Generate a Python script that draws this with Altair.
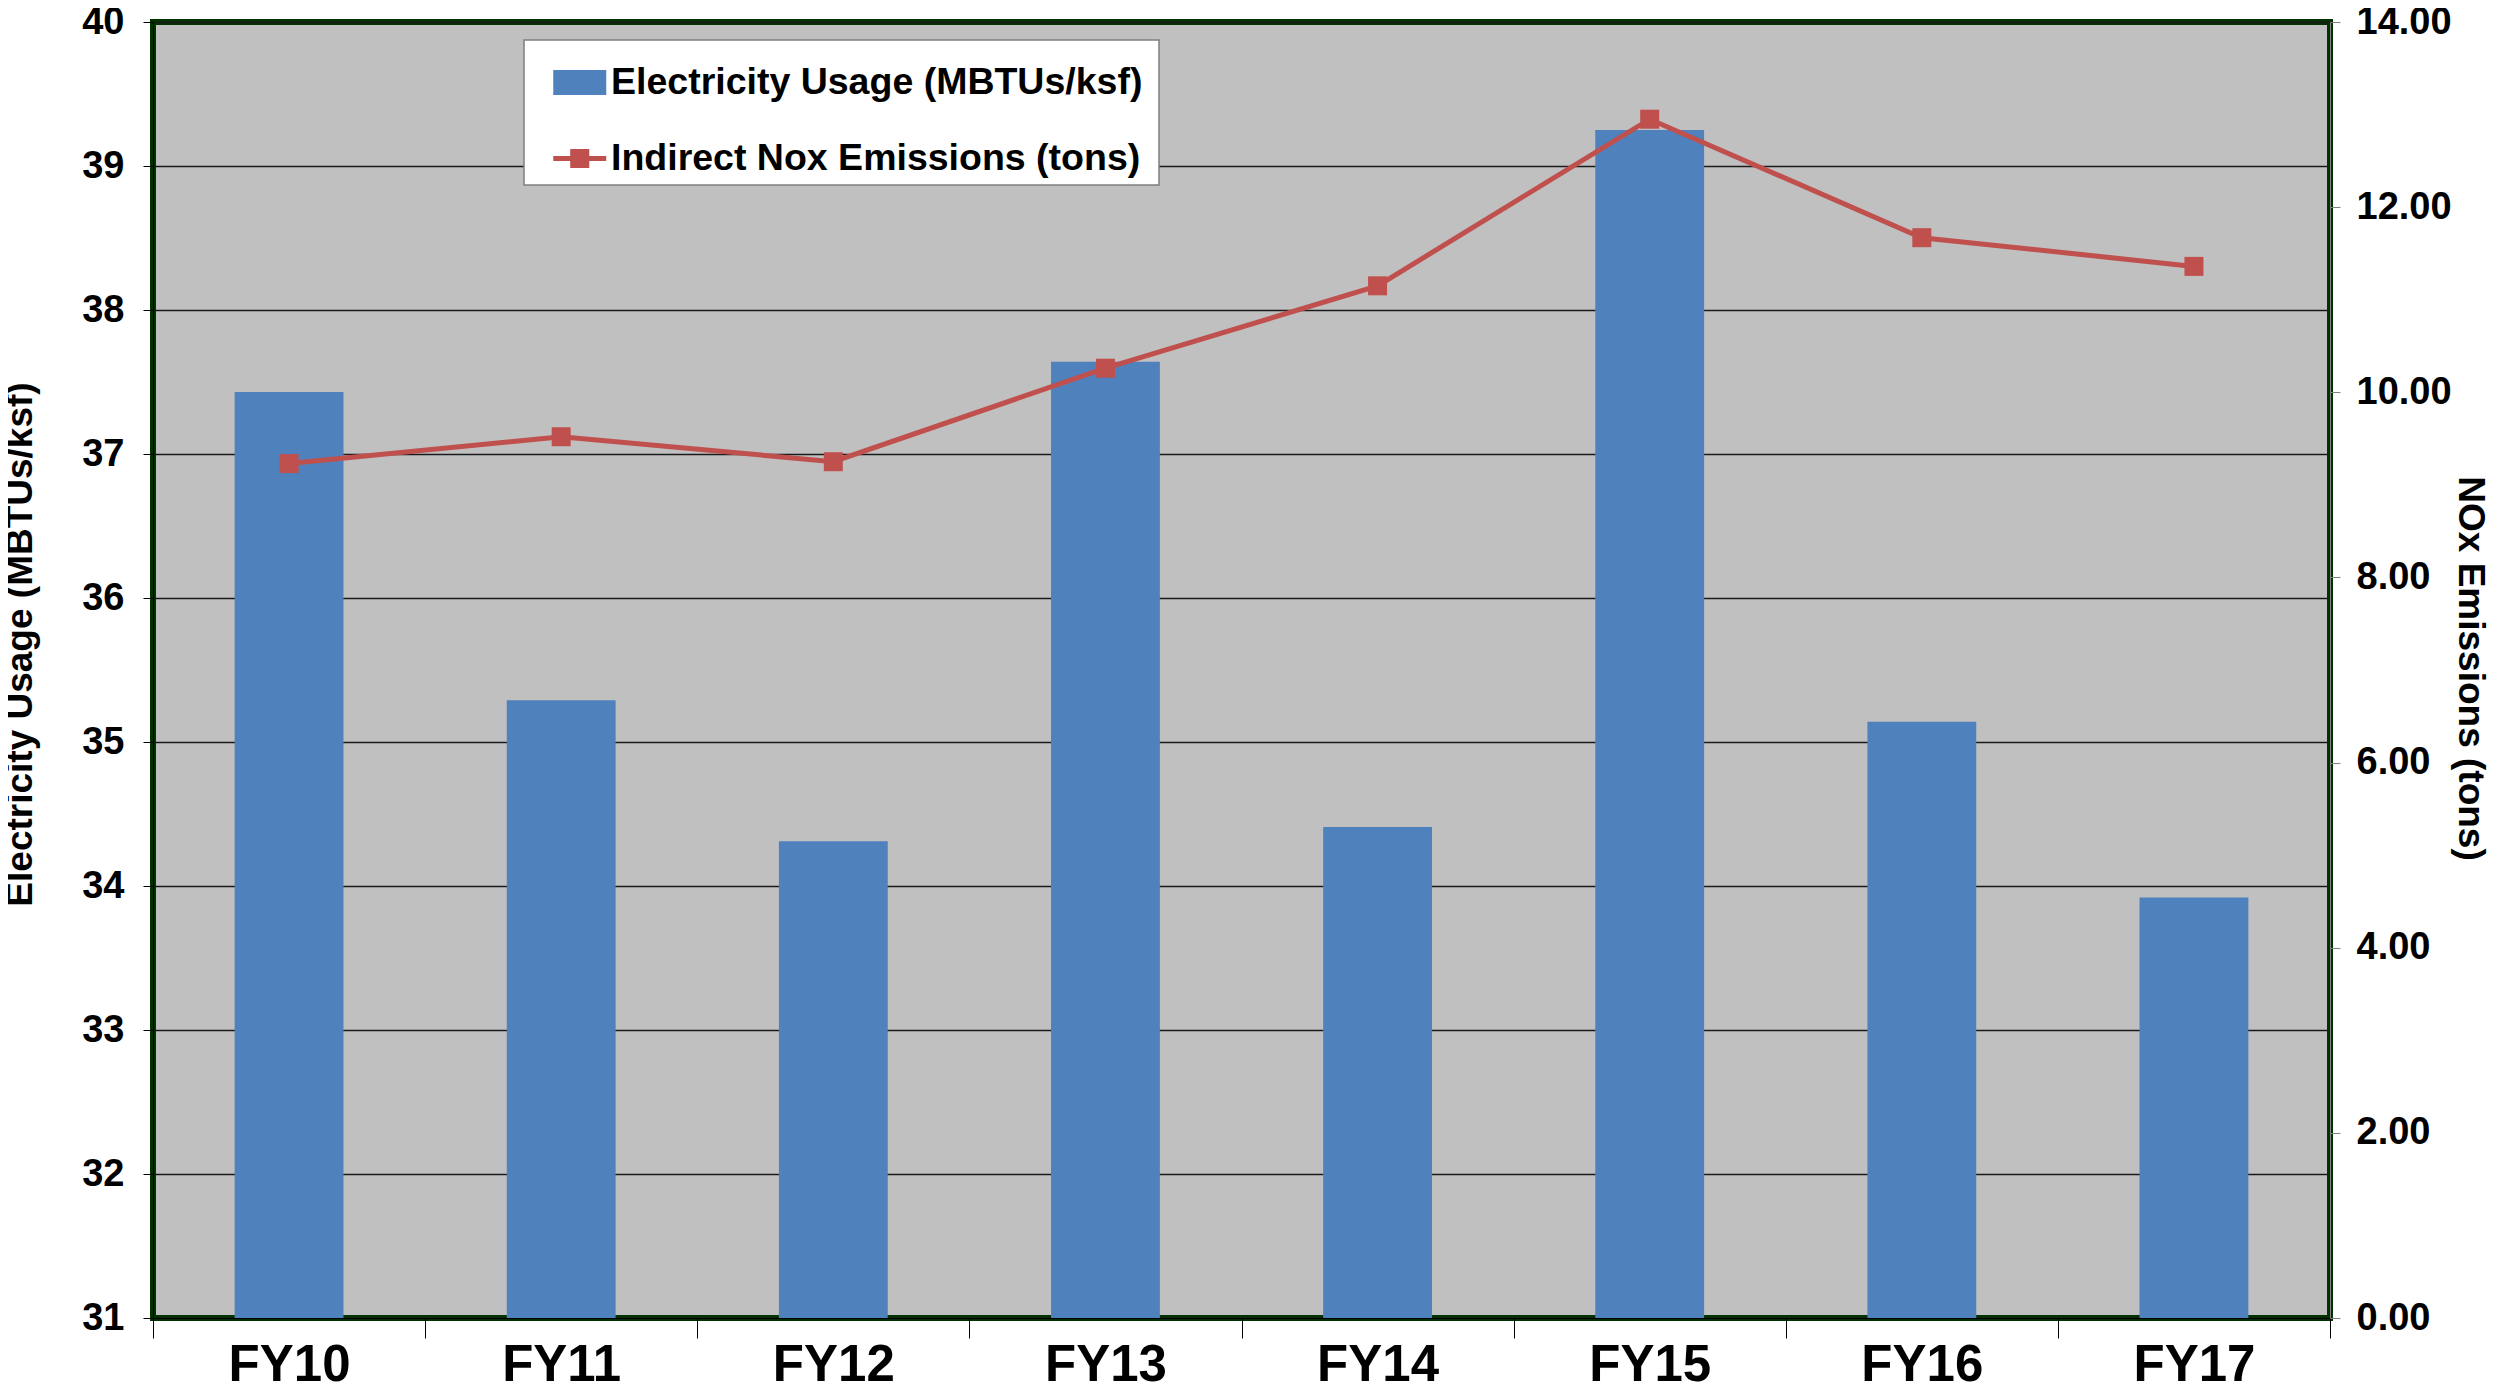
import altair as alt
import pandas as pd

years = ["FY10", "FY11", "FY12", "FY13", "FY14", "FY15", "FY16", "FY17"]
electricity = [37.43, 35.29, 34.31, 37.64, 34.41, 39.25, 35.14, 33.92]
nox = [9.23, 9.52, 9.25, 10.26, 11.15, 12.95, 11.67, 11.36]
series = ["Electricity Usage (MBTUs/ksf)", "Indirect Nox Emissions (tons)"]
left_ticks = list(range(31, 41))
right_ticks = [0, 2, 4, 6, 8, 10, 12, 14]

BLUE = "#4F81BD"
RED = "#C0504D"
FONT = "Liberation Sans"

W, H = 2177, 1296
TOP = 14

df = pd.DataFrame({"year": years, "elec": electricity, "nox": nox,
                   "s_bar": series[0], "s_line": series[1]})

x_enc = alt.X(
    "year:N", sort=years,
    scale=alt.Scale(paddingInner=0, paddingOuter=0),
    axis=alt.Axis(title=None, labelFont=FONT, labelFontSize=51, labelFontWeight="bold",
                  labelColor="black", labelAngle=0, labelBaseline="alphabetic",
                  tickBand="extent", tickSize=20, tickColor="black", tickWidth=1,
                  labelPadding=42, domainColor="black", grid=False),
)

LEG_X, LEG_Y, LEG_PAD, ROW_PAD, SYM = 371, 40 - 8 - TOP, 16, 23, 53
common_leg = dict(
    title=None, orient="none", direction="vertical",
    labelFont=FONT, labelFontSize=37.5, labelFontWeight="bold", labelColor="black",
    labelLimit=0, symbolSize=SYM * SYM, rowPadding=ROW_PAD, labelOffset=18,
    symbolStrokeWidth=0, symbolOpacity=1,
)
legend_main = alt.Legend(
    legendX=LEG_X, legendY=LEG_Y, fillColor="white", strokeColor="#7f7f7f",
    padding=LEG_PAD, symbolType="M-0.5,-0.47H1.5V0.47H-0.5Z",
    zindex=1, **common_leg,
)
B_PAD = 5
legend_line = alt.Legend(
    legendX=LEG_X + LEG_PAD - B_PAD, legendY=LEG_Y + LEG_PAD + SYM + ROW_PAD - B_PAD,
    fillColor="white", strokeColor="white", padding=B_PAD,
    symbolType="M-0.5,-0.094H1.5V0.094H-0.5Z M0.14,-0.36H0.86V0.36H0.14Z",
    zindex=2, **common_leg,
)

bars = alt.Chart(df).mark_bar(width=alt.RelativeBandSize(0.4)).encode(
    x=x_enc,
    y=alt.Y("elec:Q", scale=alt.Scale(domain=[31, 40], nice=False, zero=False),
            axis=alt.Axis(values=left_ticks, title="Electricity Usage (MBTUs/ksf)",
                          titleFont=FONT, titleFontSize=37, titleFontWeight="bold",
                          titleColor="black", titleX=-133, titleY=644 - 8 - TOP,
                          titleAngle=-90, titleAlign="center", titleBaseline="middle",
                          labelFont=FONT, labelFontSize=38, labelFontWeight="bold",
                          labelColor="black", labelPadding=19, tickSize=10,
                          tickColor="black", domainColor="black",
                          grid=True, gridColor="#1a1a1a", gridWidth=1.3, gridOpacity=1)),
    y2=alt.datum(31),
    color=alt.Color("s_bar:N", scale=alt.Scale(domain=series, range=[BLUE, RED]),
                    legend=legend_main),
)

y_right = alt.Y("nox:Q", scale=alt.Scale(domain=[0, 14], nice=False, zero=True),
                axis=alt.Axis(orient="right", values=right_ticks, format=".2f",
                              title="NOx Emissions (tons)",
                              titleFont=FONT, titleFontSize=37, titleFontWeight="bold",
                              titleColor="black", titleX=139, titleY=668 - 8 - TOP,
                              titleAngle=90, titleAlign="center", titleBaseline="middle",
                              labelFont=FONT, labelFontSize=38, labelFontWeight="bold",
                              labelColor="black", labelPadding=16, tickSize=10,
                              tickColor="#808080", domainColor="#808080", grid=False))

line = alt.Chart(df).mark_line(color=RED, strokeWidth=5).encode(x=x_enc, y=y_right)
points = alt.Chart(df).mark_point(shape="square", size=361, filled=True, opacity=1,
                                  strokeWidth=0).encode(
    x=x_enc, y=y_right,
    fill=alt.Fill("s_line:N", scale=alt.Scale(domain=[series[1]], range=[RED]),
                  legend=legend_line),
)

right = alt.layer(line, points)

chart = alt.layer(bars, right).resolve_scale(y="independent").properties(
    width=W, height=H, background="white",
    autosize=alt.AutoSizeParams(type="none"),
    padding={"left": 145, "top": TOP, "right": 161, "bottom": 1375 - TOP - H},
).configure_view(
    fill="#C0C0C0", stroke="#003300", strokeWidth=6,
).configure_legend(
    strokeWidth=1.5,
)

chart.save("out.html", embed_options={"renderer": "svg", "actions": False})
